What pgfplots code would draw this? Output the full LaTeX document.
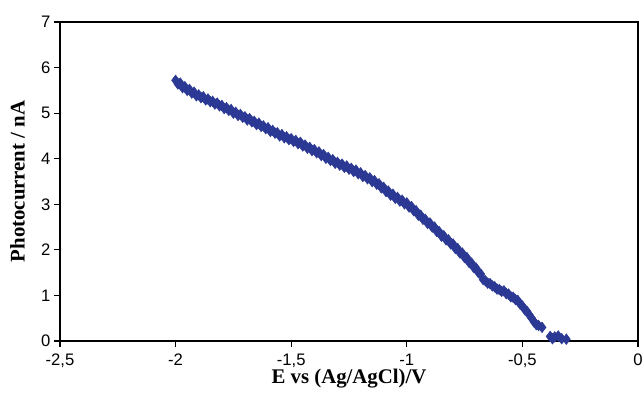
\documentclass[border=0pt]{standalone}
\usepackage{fontspec}
\setmainfont{Liberation Serif}
\setsansfont{Liberation Sans}
\usepackage{pgfplots}
\pgfplotsset{compat=1.18}
\definecolor{markblue}{RGB}{43,57,148}
\begin{document}
\begin{tikzpicture}
\begin{axis}[
  scale only axis,
  width=433.5pt, height=239.25pt,
  xmin=-2.5, xmax=0, ymin=0, ymax=7,
  xtick={-2.5,-2,-1.5,-1,-0.5,0},
  ytick={0,1,2,3,4,5,6,7},
  xtick pos=bottom, ytick pos=left,
  tick align=outside,
  major tick length=4.5pt,
  axis line style={line width=0.9pt, black},
  every tick/.style={line width=0.9pt, black},
  /pgf/number format/assume math mode=true,
  /pgf/number format/use comma,
  ticklabel style={font=\sffamily\fontsize{12.5}{14}\selectfont},
  xticklabel style={anchor=north, inner sep=0pt, yshift=-4.7pt},
  yticklabel style={anchor=east, inner sep=0pt, xshift=-2.5pt},
  xlabel={E vs (Ag/AgCl)/V},
  ylabel={Photocurrent / nA},
  every axis x label/.style={at={(rel axis cs:0.5,-0.1326)}, anchor=base, font=\bfseries\fontsize{15.6}{18}\selectfont},
  every axis y label/.style={at={(rel axis cs:-0.0735,0.5)}, rotate=90, anchor=center, font=\bfseries\fontsize{15.6}{18}\selectfont},
  clip=false,
]
\addplot[only marks, mark=diamond*, mark size=4pt, color=markblue, mark options={fill=markblue, draw=markblue}] coordinates {
(-2.00,5.72) (-1.99,5.64) (-1.98,5.66) (-1.97,5.56) (-1.96,5.58) (-1.95,5.50) (-1.94,5.52) (-1.93,5.44)
(-1.92,5.46) (-1.91,5.38) (-1.90,5.40) (-1.89,5.34) (-1.88,5.36) (-1.87,5.29) (-1.86,5.31) (-1.85,5.25)
(-1.84,5.26) (-1.83,5.20) (-1.82,5.22) (-1.81,5.16) (-1.80,5.17) (-1.79,5.10) (-1.78,5.12) (-1.77,5.06)
(-1.76,5.08) (-1.75,5.00) (-1.74,5.02) (-1.73,4.95) (-1.72,4.97) (-1.71,4.91) (-1.70,4.92) (-1.69,4.85)
(-1.68,4.88) (-1.67,4.81) (-1.66,4.82) (-1.65,4.75) (-1.64,4.78) (-1.63,4.71) (-1.62,4.72) (-1.61,4.66)
(-1.60,4.68) (-1.59,4.60) (-1.58,4.62) (-1.57,4.56) (-1.56,4.57) (-1.55,4.50) (-1.54,4.53) (-1.53,4.46)
(-1.52,4.48) (-1.51,4.42) (-1.50,4.44) (-1.49,4.38) (-1.48,4.40) (-1.47,4.33) (-1.46,4.36) (-1.45,4.28)
(-1.44,4.30) (-1.43,4.23) (-1.42,4.25) (-1.41,4.18) (-1.40,4.20) (-1.39,4.13) (-1.38,4.15) (-1.37,4.07)
(-1.36,4.09) (-1.35,4.01) (-1.34,4.03) (-1.33,3.96) (-1.32,3.98) (-1.31,3.90) (-1.30,3.92) (-1.29,3.86)
(-1.28,3.88) (-1.27,3.81) (-1.26,3.84) (-1.25,3.77) (-1.24,3.79) (-1.23,3.72) (-1.22,3.75) (-1.21,3.67)
(-1.20,3.69) (-1.19,3.61) (-1.18,3.63) (-1.17,3.56) (-1.16,3.58) (-1.15,3.50) (-1.14,3.52) (-1.13,3.44)
(-1.12,3.45) (-1.11,3.36) (-1.10,3.37) (-1.09,3.28) (-1.08,3.29) (-1.07,3.20) (-1.06,3.22) (-1.05,3.13)
(-1.04,3.15) (-1.03,3.07) (-1.02,3.09) (-1.01,3.01) (-1.00,3.03) (-0.99,2.94) (-0.98,2.95) (-0.97,2.86)
(-0.96,2.86) (-0.95,2.76) (-0.94,2.76) (-0.93,2.67) (-0.92,2.67) (-0.91,2.58) (-0.90,2.59) (-0.89,2.50)
(-0.88,2.50) (-0.87,2.40) (-0.86,2.40) (-0.85,2.30) (-0.84,2.31) (-0.83,2.22) (-0.82,2.22) (-0.81,2.13)
(-0.80,2.13) (-0.79,2.03) (-0.78,2.03) (-0.77,1.93) (-0.76,1.93) (-0.75,1.83) (-0.74,1.83) (-0.73,1.72)
(-0.72,1.71) (-0.71,1.61) (-0.70,1.60) (-0.69,1.50) (-0.68,1.47) (-0.67,1.35) (-0.66,1.32) (-0.65,1.27)
(-0.64,1.26) (-0.63,1.21) (-0.62,1.19) (-0.61,1.14) (-0.60,1.13) (-0.59,1.09) (-0.58,1.10) (-0.57,1.04)
(-0.56,1.03) (-0.55,0.97) (-0.54,0.96) (-0.53,0.91) (-0.52,0.89) (-0.51,0.81) (-0.50,0.77) (-0.49,0.69)
(-0.48,0.65) (-0.47,0.57) (-0.46,0.50) (-0.45,0.42) (-0.44,0.36) (-0.43,0.34) (-0.415,0.30)
(-0.38,0.10) (-0.37,0.05) (-0.36,0.09) (-0.345,0.11) (-0.33,0.05) (-0.31,0.04)
};
\coordinate (bbl) at (rel axis cs:-0.10381,-0.16301);
\coordinate (btr) at (rel axis cs:1.00865,1.06897);
\end{axis}
\pgfresetboundingbox
\path (bbl) rectangle (btr);
\end{tikzpicture}
\end{document}
